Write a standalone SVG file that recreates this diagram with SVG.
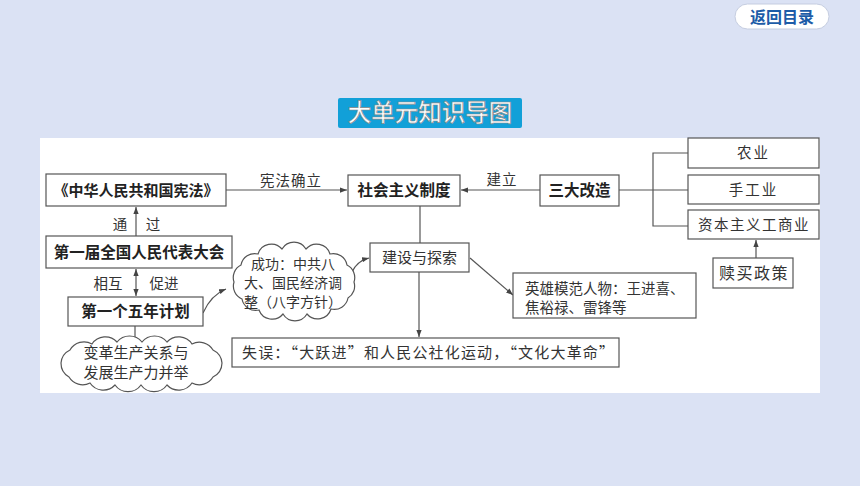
<svg xmlns="http://www.w3.org/2000/svg" width="860" height="486" viewBox="0 0 860 486">
<style>
.box{fill:#fff;stroke:#555;stroke-width:1.2}
.cloud{fill:#fff;stroke:#555;stroke-width:1.2}
.line{fill:none;stroke:#555;stroke-width:1.2}
.b{font-family:"Noto Sans CJK SC","Noto Sans",sans-serif;font-weight:700;font-size:15.5px;fill:#222;text-anchor:middle}
.r{font-family:"Noto Sans CJK SC","Noto Sans",sans-serif;font-weight:400;font-size:14.5px;fill:#333}
.c{text-anchor:middle}
</style>
<defs>
<marker id="ah" viewBox="0 0 8 6" refX="8" refY="3" markerWidth="7" markerHeight="5.5" markerUnits="userSpaceOnUse" orient="auto-start-reverse">
<path d="M0,0 L8,3 L0,6 z" fill="#444"/>
</marker>
</defs>
<rect x="0" y="0" width="860" height="486" fill="#dbe2f4"/>
<g id="btn-back">
<rect x="735" y="4" width="94" height="25" rx="12.5" fill="#fff" stroke="#c5cde0" stroke-width="1"/>
<text x="782" y="22.5" style="font-family:'Noto Sans CJK SC',sans-serif;font-weight:700;font-size:16px;fill:#1d5ca8;text-anchor:middle">返回目录</text>
</g>
<g id="title">
<rect x="338" y="98" width="184" height="30" rx="2" fill="#12a0d8"/>
<text x="430" y="121" style="font-family:'Noto Sans CJK SC',sans-serif;font-weight:500;font-size:23.5px;fill:#fff;stroke:#8c8c8c;stroke-width:0.7;text-anchor:middle">大单元知识导图</text>
</g>
<rect id="panel" x="40" y="138" width="780" height="255" fill="#fff"/>

<g id="connectors">
<line class="line" x1="226" y1="190" x2="347" y2="190" marker-end="url(#ah)"/>
<line class="line" x1="540" y1="190" x2="461" y2="190" marker-end="url(#ah)"/>
<line class="line" x1="619" y1="190" x2="688" y2="190"/>
<polyline class="line" points="688,153 653,153 653,226 688,226"/>
<line class="line" x1="756" y1="258" x2="756" y2="240" marker-end="url(#ah)"/>
<line class="line" x1="136" y1="236" x2="136" y2="207" marker-end="url(#ah)"/>
<line class="line" x1="136" y1="269" x2="136" y2="296" marker-start="url(#ah)" marker-end="url(#ah)"/>
<line class="line" x1="135" y1="326" x2="135" y2="341"/>
<line class="line" x1="420" y1="206" x2="420" y2="243"/>
<line class="line" x1="419" y1="272" x2="419" y2="337" marker-end="url(#ah)"/>
<line class="line" x1="470" y1="258" x2="513" y2="295" marker-end="url(#ah)"/>
<path class="line" d="M203,313 Q211,295 226,289" marker-end="url(#ah)"/>
<path class="line" d="M352,272 Q357,261 369,258" marker-end="url(#ah)"/>
<text class="r c" x="291" y="186" style="letter-spacing:1px">宪法确立</text>
<text class="r c" x="502" y="185" style="letter-spacing:1px">建立</text>
<text class="r c" x="120" y="230">通</text>
<text class="r c" x="153" y="230">过</text>
<text class="r c" x="108" y="289">相互</text>
<text class="r c" x="164" y="289">促进</text>
</g>

<g id="node-constitution">
<rect class="box" x="46" y="174" width="180" height="32"/>
<text class="b" x="136" y="196" style="font-size:15px">《中华人民共和国宪法》</text>
</g>
<g id="node-socialism">
<rect class="box" x="348" y="175" width="112" height="31"/>
<text class="b" x="404" y="196">社会主义制度</text>
</g>
<g id="node-three">
<rect class="box" x="540" y="175" width="79" height="31"/>
<text class="b" x="579.5" y="196">三大改造</text>
</g>
<g id="node-agri">
<rect class="box" x="688" y="138" width="131" height="30"/>
<text class="r c" x="753.5" y="158" style="letter-spacing:2px">农业</text>
</g>
<g id="node-handicraft">
<rect class="box" x="688" y="175" width="131" height="29"/>
<text class="r c" x="753.5" y="195" style="letter-spacing:2px">手工业</text>
</g>
<g id="node-capital">
<rect class="box" x="688" y="210" width="131" height="29"/>
<text class="r c" x="754" y="230" style="letter-spacing:1.5px">资本主义工商业</text>
</g>
<g id="node-redeem">
<rect class="box" x="713" y="258" width="80" height="30"/>
<text class="r c" x="754" y="279" style="font-size:16px;letter-spacing:1.5px">赎买政策</text>
</g>
<g id="node-npc">
<rect class="box" x="46" y="236" width="186" height="32"/>
<text class="b" x="139" y="258">第一届全国人民代表大会</text>
</g>
<g id="node-fiveyear">
<rect class="box" x="68" y="297" width="135" height="29"/>
<text class="b" x="135.5" y="317">第一个五年计划</text>
</g>
<g id="node-cloud-reform">
<path class="cloud" d="M222,363 A16,16 0 0 1 213,377 A16,16 0 0 1 192,383 A16,16 0 0 1 167,385 A16,16 0 0 1 141,385 A16,16 0 0 1 115,385 A16,16 0 0 1 90,383 A16,16 0 0 1 69,377 A16,16 0 0 1 61,363 A16,16 0 0 1 70,350 A16,16 0 0 1 92,344 A16,16 0 0 1 117,342 A16,16 0 0 1 142,342 A16,16 0 0 1 167,342 A16,16 0 0 1 192,344 A16,16 0 0 1 213,350 A16,16 0 0 1 222,363 Z"/>
<text class="r c" style="font-size:15px"><tspan x="136" y="358">变革生产关系与</tspan><tspan x="136" y="378">发展生产力并举</tspan></text>
</g>
<g id="node-cloud-success">
<path class="cloud" d="M354,282 A14,14 0 0 1 348,298 A14,14 0 0 1 331,309 A14,14 0 0 1 307,314 A14,14 0 0 1 283,314 A14,14 0 0 1 259,310 A14,14 0 0 1 242,299 A14,14 0 0 1 234,282 A14,14 0 0 1 241,265 A14,14 0 0 1 258,254 A14,14 0 0 1 282,249 A14,14 0 0 1 306,249 A14,14 0 0 1 330,254 A14,14 0 0 1 347,265 A14,14 0 0 1 354,282 Z"/>
<text class="r c" style="font-size:14px"><tspan x="293" y="269">成功：中共八</tspan><tspan x="293" y="288">大、国民经济调</tspan><tspan x="293" y="307">整（八字方针）</tspan></text>
</g>
<g id="node-build">
<rect class="box" x="370" y="243" width="99" height="29"/>
<text class="r c" x="419.5" y="263" style="font-size:15px">建设与探索</text>
</g>
<g id="node-heroes">
<rect class="box" x="513" y="273" width="183" height="45"/>
<text class="r" style="font-size:14.5px"><tspan x="525" y="294">英雄模范人物：王进喜、</tspan><tspan x="525" y="313">焦裕禄、雷锋等</tspan></text>
</g>
<g id="node-mistake">
<rect class="box" x="232" y="338" width="387" height="29"/>
<text class="r" x="242" y="358" style="font-size:15px" textLength="372" lengthAdjust="spacing">失误：“大跃进”和人民公社化运动，“文化大革命”</text>
</g>
</svg>
